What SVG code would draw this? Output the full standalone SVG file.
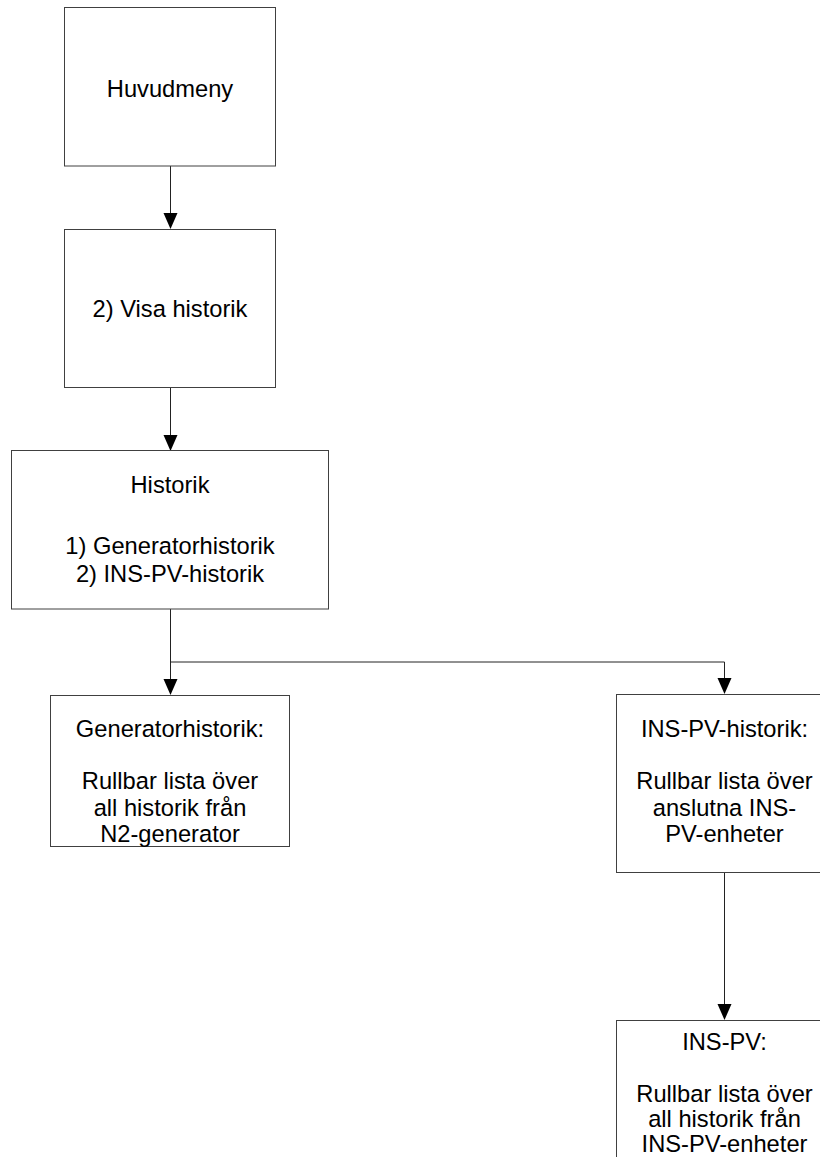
<svg xmlns="http://www.w3.org/2000/svg" width="820" height="1157" viewBox="0 0 820 1157">
<defs>
<style>
.box{fill:#fff;stroke:#404040;stroke-width:1}
.t{font-family:"Liberation Sans",Arial,sans-serif;font-size:23.7px;fill:#000;text-anchor:middle}
.c{fill:none;stroke:#222;stroke-width:1}
.ah{fill:#000}
</style>
</defs>
<rect width="820" height="1157" fill="#fff"/>
<g id="connectors">
<line class="c" x1="170.5" y1="166" x2="170.5" y2="214"/>
<line class="c" x1="170.5" y1="388" x2="170.5" y2="436"/>
<line class="c" x1="170.5" y1="609" x2="170.5" y2="680"/>
<polyline class="c" points="170.5,662 724.5,662 724.5,679"/>
<line class="c" x1="724.5" y1="872" x2="724.5" y2="1005"/>
<polygon class="ah" points="163.5,213 177.5,213 170.5,229"/>
<polygon class="ah" points="163.5,435 177.5,435 170.5,451"/>
<polygon class="ah" points="163.5,679 177.5,679 170.5,695"/>
<polygon class="ah" points="717.5,678 731.5,678 724.5,694"/>
<polygon class="ah" points="717.5,1004 731.5,1004 724.5,1020"/>
</g>
<g id="huvudmeny">
<rect class="box" x="64.5" y="7.5" width="211" height="158.5"/>
<text class="t" x="170" y="96.5">Huvudmeny</text>
</g>
<g id="visa-historik">
<rect class="box" x="64.5" y="229.5" width="211" height="158"/>
<text class="t" x="170" y="316.5">2) Visa historik</text>
</g>
<g id="historik">
<rect class="box" x="11.5" y="450.5" width="317" height="158.5"/>
<text class="t" x="170" y="492.5">Historik</text>
<text class="t" x="170" y="553.5">1) Generatorhistorik</text>
<text class="t" x="170" y="581.5">2) INS-PV-historik</text>
</g>
<g id="generatorhistorik">
<rect class="box" x="50.5" y="695.5" width="239" height="151"/>
<text class="t" x="170" y="737">Generatorhistorik:</text>
<text class="t" x="170" y="789">Rullbar lista över</text>
<text class="t" x="170" y="816">all historik från</text>
<text class="t" x="170" y="842">N2-generator</text>
</g>
<g id="ins-pv-historik">
<rect class="box" x="616.5" y="694.5" width="220" height="178"/>
<text class="t" x="724.5" y="737">INS-PV-historik:</text>
<text class="t" x="724.5" y="789">Rullbar lista över</text>
<text class="t" x="724.5" y="816">anslutna INS-</text>
<text class="t" x="724.5" y="842">PV-enheter</text>
</g>
<g id="ins-pv">
<rect class="box" x="616.5" y="1020.5" width="220" height="178"/>
<text class="t" x="724.5" y="1050">INS-PV:</text>
<text class="t" x="724.5" y="1102">Rullbar lista över</text>
<text class="t" x="724.5" y="1127">all historik från</text>
<text class="t" x="724.5" y="1152">INS-PV-enheter</text>
</g>
</svg>
